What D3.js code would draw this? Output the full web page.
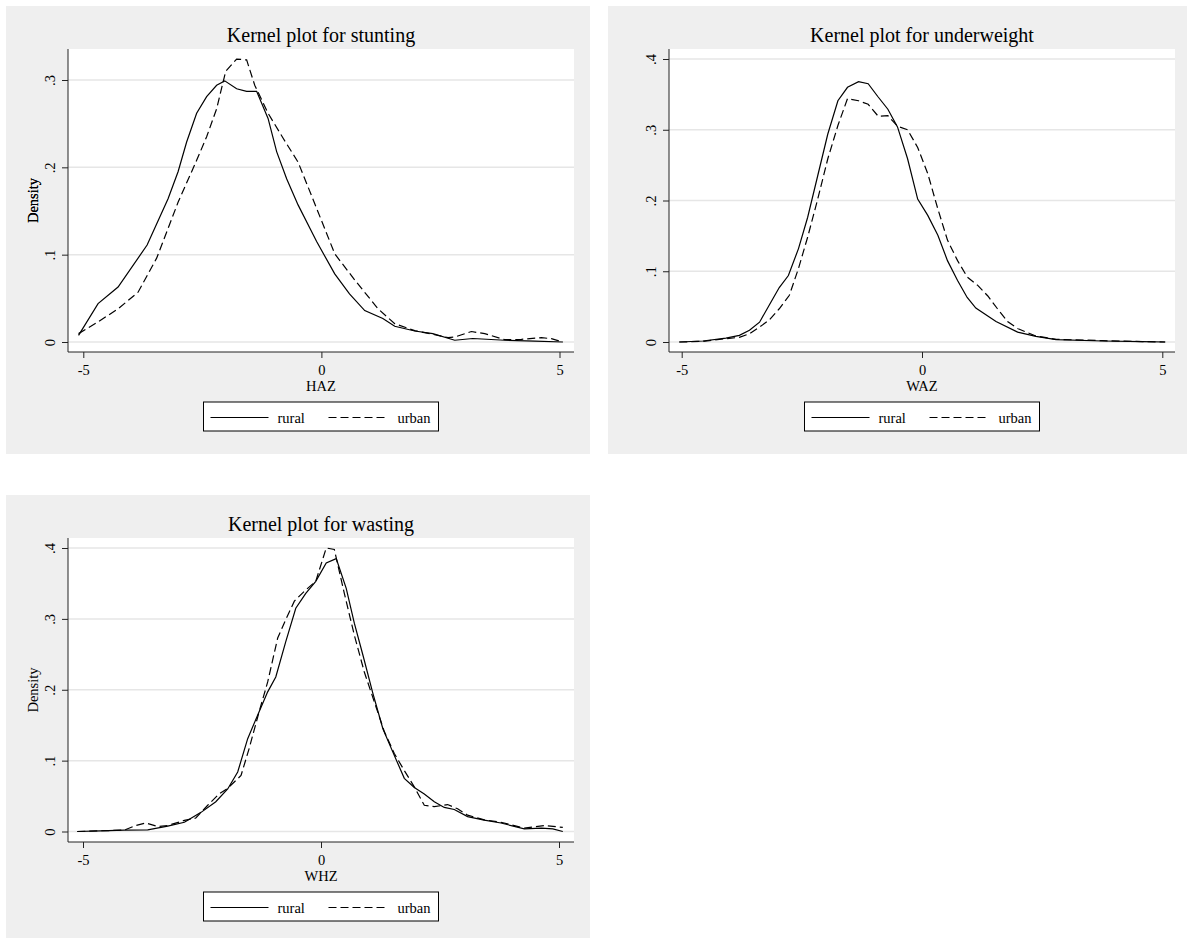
<!DOCTYPE html>
<html lang="en">
<head>
<meta charset="utf-8">
<title>Kernel plots</title>
<script src="https://d3js.org/d3.v7.min.js"></script>
<style>
  body { margin: 0; background: #fff; }
  text { font-family: "Liberation Serif", "DejaVu Serif", serif; fill: #000; }
</style>
</head>
<body>
<svg id="chart" width="1187" height="938"></svg>
<script>
// ---- data ----
// stunting (HAZ)
var hazRuralX = [-5.1,-4.69,-4.27,-3.66,-3.22,-3.01,-2.83,-2.62,-2.41,-2.20,-2.03,-1.78,-1.57,-1.36,-1.12,-0.94,-0.73,-0.49,-0.10,0.28,0.59,0.91,1.29,1.54,1.96,2.34,2.80,3.18,3.85,4.48,5.07];
var hazRuralY = [0.0076,0.044,0.063,0.111,0.164,0.195,0.229,0.262,0.281,0.294,0.299,0.290,0.287,0.287,0.256,0.218,0.187,0.157,0.115,0.078,0.055,0.036,0.027,0.018,0.0126,0.0096,0.002,0.004,0.002,0.001,0.000];
var hazUrbanX = [-5.1,-4.69,-4.27,-3.85,-3.46,-3.22,-3.01,-2.62,-2.41,-2.20,-2.01,-1.78,-1.57,-1.40,-1.12,-0.80,-0.49,-0.10,0.28,0.70,1.19,1.54,1.96,2.34,2.66,2.80,3.15,3.43,3.85,4.20,4.62,4.83,5.07];
var hazUrbanY = [0.0096,0.023,0.038,0.057,0.096,0.130,0.160,0.208,0.235,0.267,0.310,0.324,0.323,0.294,0.262,0.233,0.206,0.153,0.101,0.071,0.038,0.021,0.013,0.0088,0.005,0.0057,0.012,0.0096,0.0027,0.003,0.005,0.0038,0.000];

// underweight (WAZ)
var wazRuralX = [-5.05,-4.56,-4.08,-3.80,-3.59,-3.38,-3.18,-2.97,-2.78,-2.57,-2.38,-2.17,-1.96,-1.75,-1.55,-1.32,-1.12,-0.92,-0.71,-0.51,-0.30,-0.09,0.12,0.33,0.53,0.74,0.94,1.12,1.54,1.99,2.37,2.79,3.76,4.59,5.06];
var wazRuralY = [0,0.0014,0.0056,0.0094,0.0165,0.028,0.052,0.077,0.094,0.132,0.176,0.235,0.294,0.341,0.360,0.368,0.365,0.347,0.329,0.304,0.259,0.202,0.179,0.151,0.115,0.087,0.063,0.048,0.029,0.014,0.008,0.0033,0.0014,0.0005,0];
var wazUrbanX = [-5.05,-4.56,-4.08,-3.80,-3.59,-3.38,-3.18,-2.97,-2.76,-2.57,-2.38,-2.17,-1.96,-1.75,-1.55,-1.32,-1.12,-0.91,-0.71,-0.51,-0.30,-0.09,0.12,0.33,0.53,0.74,0.94,1.16,1.37,1.57,1.78,1.99,2.37,2.79,3.76,4.59,5.06];
var wazUrbanY = [0,0.0009,0.0047,0.0066,0.0118,0.021,0.031,0.047,0.066,0.104,0.148,0.202,0.259,0.306,0.344,0.341,0.336,0.319,0.320,0.305,0.300,0.275,0.238,0.188,0.144,0.115,0.092,0.080,0.065,0.047,0.029,0.019,0.0085,0.0038,0.0019,0.0005,0];

// wasting (WHZ)
var whzRuralX = [-5.12,-4.63,-4.13,-3.64,-3.22,-2.87,-2.52,-2.21,-1.96,-1.75,-1.54,-1.30,-1.12,-0.95,-0.74,-0.53,-0.32,-0.11,0.11,0.32,0.53,0.70,0.88,1.09,1.30,1.51,1.75,1.96,2.17,2.38,2.59,2.80,3.08,3.43,3.78,4.27,4.63,4.87,5.08];
var whzRuralY = [0,0.001,0.002,0.0024,0.0075,0.013,0.027,0.042,0.060,0.084,0.131,0.169,0.197,0.218,0.268,0.315,0.336,0.353,0.379,0.385,0.343,0.294,0.249,0.195,0.145,0.112,0.075,0.062,0.053,0.042,0.034,0.031,0.021,0.016,0.012,0.0038,0.0047,0.0038,0];
var whzUrbanX = [-5.12,-4.63,-4.13,-3.89,-3.68,-3.43,-3.22,-2.87,-2.63,-2.38,-2.14,-1.96,-1.68,-1.51,-1.30,-1.12,-0.91,-0.74,-0.56,-0.35,-0.11,0.11,0.28,0.49,0.70,0.91,1.12,1.33,1.54,1.75,1.96,2.17,2.38,2.66,2.87,3.08,3.43,3.78,4.27,4.70,5.08];
var whzUrbanY = [0,0.001,0.002,0.0085,0.012,0.007,0.0085,0.0156,0.019,0.037,0.053,0.061,0.079,0.117,0.169,0.211,0.273,0.299,0.325,0.339,0.353,0.400,0.398,0.336,0.277,0.225,0.183,0.141,0.110,0.086,0.063,0.037,0.035,0.038,0.032,0.023,0.0165,0.013,0.0047,0.0085,0.0057];

var xTicks = [-5, 0, 5];
var yTicksStunting = [0, 0.1, 0.2, 0.3];
var yTicksOther = [0, 0.1, 0.2, 0.3, 0.4];
var seriesNames = ["rural", "urban"];

// ---- layout ----
var svg = d3.select("#chart");

function zip(xs, ys) {
  return xs.map(function(x, i) { return { x: x, y: ys[i] }; });
}

var panels = [
  { bg: [6, 6, 584, 448], plot: [68, 49, 574, 352], xr: [83.3, 559.5], yr: [342, 80], ymax: 0.3,
    yTicks: yTicksStunting, title: "Kernel plot for stunting", xlabel: "HAZ",
    rural: zip(hazRuralX, hazRuralY), urban: zip(hazUrbanX, hazUrbanY) },
  { bg: [608, 6, 579, 448], plot: [669, 49, 1175, 352], xr: [681.7, 1162.3], yr: [342, 59], ymax: 0.4,
    yTicks: yTicksOther, title: "Kernel plot for underweight", xlabel: "WAZ",
    rural: zip(wazRuralX, wazRuralY), urban: zip(wazUrbanX, wazUrbanY) },
  { bg: [6, 495, 584, 443], plot: [68, 538, 574, 842], xr: [83, 559], yr: [831.5, 548], ymax: 0.4,
    yTicks: yTicksOther, title: "Kernel plot for wasting", xlabel: "WHZ",
    rural: zip(whzRuralX, whzRuralY), urban: zip(whzUrbanX, whzUrbanY) }
];

// Stata style tick labels: ".1", "-5" (plain hyphen)
function yFmt(d) {
  return d === 0 ? "0" : d3.format(".1f")(d).replace(/^0/, "");
}
function xFmt(d) { return String(d); }

panels.forEach(function(p) {
  var g = svg.append("g");
  var left = p.plot[0], top = p.plot[1], right = p.plot[2], bottom = p.plot[3];
  var cx = (left + right) / 2;

  // panel background and plot region
  g.append("rect").attr("x", p.bg[0]).attr("y", p.bg[1])
    .attr("width", p.bg[2]).attr("height", p.bg[3]).attr("fill", "#efefef");
  g.append("rect").attr("x", left).attr("y", top)
    .attr("width", right - left).attr("height", bottom - top).attr("fill", "#fff");

  var x = d3.scaleLinear().domain([-5, 5]).range(p.xr);
  var y = d3.scaleLinear().domain([0, p.ymax]).range(p.yr);

  // gridlines
  g.selectAll(".grid").data(p.yTicks).enter().append("line")
    .attr("x1", left).attr("x2", right)
    .attr("y1", function(d) { return y(d); }).attr("y2", function(d) { return y(d); })
    .attr("stroke", "#e6e6e6").attr("stroke-width", 1.5);

  // y axis
  var ya = g.append("g").attr("transform", "translate(" + left + ",0)")
    .call(d3.axisLeft(y).tickValues(p.yTicks).tickFormat(yFmt).tickSize(6).tickSizeOuter(0));
  ya.select(".domain").remove();
  ya.selectAll("line").attr("stroke", "#222");
  ya.selectAll("text")
    .attr("transform", "rotate(-90)")
    .attr("x", 0).attr("y", -13).attr("dy", 0)
    .attr("text-anchor", "middle")
    .style("font-family", "'Liberation Serif', serif").style("font-size", "14.5px").attr("fill", "#000");
  g.append("line").attr("x1", left).attr("x2", left).attr("y1", top).attr("y2", bottom)
    .attr("stroke", "#222").attr("stroke-width", 1);

  // x axis
  var xa = g.append("g").attr("transform", "translate(0," + bottom + ")")
    .call(d3.axisBottom(x).tickValues(xTicks).tickFormat(xFmt).tickSize(6).tickSizeOuter(0));
  xa.select(".domain").remove();
  xa.selectAll("line").attr("stroke", "#222");
  xa.selectAll("text")
    .attr("y", 23).attr("dy", 0)
    .style("font-family", "'Liberation Serif', serif").style("font-size", "14.5px").attr("fill", "#000");
  g.append("line").attr("x1", left).attr("x2", right).attr("y1", bottom).attr("y2", bottom)
    .attr("stroke", "#222").attr("stroke-width", 1);

  // titles and labels
  g.append("text").attr("x", cx).attr("y", top - 7.5).attr("text-anchor", "middle")
    .style("font-size", "20px").text(p.title);
  g.append("text").attr("x", cx).attr("y", bottom + 39).attr("text-anchor", "middle")
    .style("font-size", "14.5px").text(p.xlabel);
  g.append("text").attr("transform", "translate(38," + ((top + bottom) / 2) + ") rotate(-90)")
    .attr("text-anchor", "middle").style("font-size", "14.5px").text("Density");

  // density curves
  var line = d3.line().x(function(d) { return x(d.x); }).y(function(d) { return y(d.y); });
  g.append("path").datum(p.rural).attr("d", line)
    .attr("fill", "none").attr("stroke", "#000").attr("stroke-width", 1.2);
  g.append("path").datum(p.urban).attr("d", line)
    .attr("fill", "none").attr("stroke", "#000").attr("stroke-width", 1.2)
    .attr("stroke-dasharray", "8,4");

  // legend
  var lx = cx - 117.5, ly = bottom + 50;
  var lg = g.append("g").attr("transform", "translate(" + lx + "," + ly + ")");
  lg.append("rect").attr("width", 235).attr("height", 29)
    .attr("fill", "#fff").attr("stroke", "#000").attr("stroke-width", 1);
  lg.append("line").attr("x1", 7).attr("x2", 65).attr("y1", 15.5).attr("y2", 15.5)
    .attr("stroke", "#000").attr("stroke-width", 1.2);
  lg.append("text").attr("x", 74).attr("y", 20.5).style("font-size", "14.5px").text(seriesNames[0]);
  lg.append("line").attr("x1", 125).attr("x2", 184).attr("y1", 15.5).attr("y2", 15.5)
    .attr("stroke", "#000").attr("stroke-width", 1.2).attr("stroke-dasharray", "8,4");
  lg.append("text").attr("x", 194).attr("y", 20.5).style("font-size", "14.5px").text(seriesNames[1]);
});
</script>
</body>
</html>
